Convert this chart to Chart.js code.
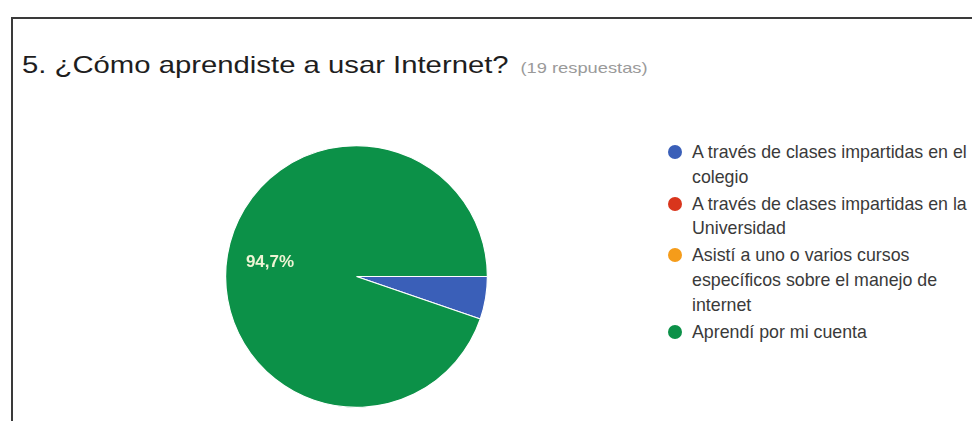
<!DOCTYPE html>
<html lang="es">
<head>
<meta charset="utf-8">
<title>¿Cómo aprendiste a usar Internet?</title>
<script src="https://cdn.jsdelivr.net/npm/chart.js@4/dist/chart.umd.min.js"></script>
<style>
    html, body {
        margin: 0;
        padding: 0;
        width: 972px;
        height: 421px;
        overflow: hidden;
        background: #fff;
        font-family: Arial, "Liberation Sans", sans-serif;
    }
    .marco {
        position: absolute;
        left: 11px;
        top: 17px;
        width: 980px;
        height: 420px;
        border-top: 2px solid #3a3a3a;
        border-left: 2px solid #3a3a3a;
    }
    .titulo {
        position: absolute;
        left: 22px;
        top: 53px;
        font-size: 24px;
        line-height: 1;
        color: #1e1e1e;
        white-space: nowrap;
        transform: scaleX(1.22);
        transform-origin: left top;
    }
    .titulo small {
        font-size: 15px;
        color: #9a9a9a;
        margin-left: 3px;
    }
    .grafico {
        position: absolute;
        left: 225px;
        top: 145px;
        width: 263px;
        height: 263px;
    }
    .leyenda {
        position: absolute;
        left: 668px;
        top: 140px;
        width: 304px;
        margin: 0;
        padding: 0;
        list-style: none;
        font-size: 17.8px;
        line-height: 24.8px;
        color: #3a3a3a;
    }
    .leyenda li {
        position: relative;
        padding-left: 24px;
        margin-bottom: 2px;
    }
    .leyenda .punto {
        position: absolute;
        left: 0;
        top: 5px;
        width: 14px;
        height: 14px;
        border-radius: 50%;
    }
</style>
</head>
<body>
<div class="marco"></div>
<div class="titulo">5. ¿Cómo aprendiste a usar Internet? <small>(19 respuestas)</small></div>
<div class="grafico"><canvas id="graficoTorta"></canvas></div>
<ul class="leyenda" id="leyenda"></ul>

<script>
    const opciones = [
        'A través de clases impartidas en el colegio',
        'A través de clases impartidas en la Universidad',
        'Asistí a uno o varios cursos específicos sobre el manejo de internet',
        'Aprendí por mi cuenta'
    ];
    const respuestas = [1, 0, 0, 18];
    const colores = ['#3a5fb8', '#d9351c', '#f59c1a', '#0c9148'];

    // porcentaje dentro de cada porción grande, con coma decimal
    const etiquetasPorcentaje = {
        id: 'etiquetasPorcentaje',
        afterDatasetsDraw(chart) {
            const ctx = chart.ctx;
            const datos = chart.data.datasets[0].data;
            const total = datos.reduce((a, b) => a + b, 0);
            const arcos = chart.getDatasetMeta(0).data;
            ctx.save();
            ctx.font = 'bold 17px Arial, "Liberation Sans", sans-serif';
            ctx.fillStyle = '#eef4d4';
            ctx.textAlign = 'center';
            ctx.textBaseline = 'middle';
            arcos.forEach((arco, i) => {
                const valor = datos[i];
                if (!valor || valor / total < 0.1) return;
                const p = arco.getProps(['x', 'y', 'startAngle', 'endAngle', 'outerRadius'], true);
                const medio = (p.startAngle + p.endAngle) / 2;
                const r = p.outerRadius * 0.67;
                const texto = (valor / total * 100).toFixed(1).replace('.', ',') + '%';
                ctx.fillText(texto, p.x + Math.cos(medio) * r, p.y + Math.sin(medio) * r);
            });
            ctx.restore();
        }
    };

    const ctxTorta = document.getElementById('graficoTorta').getContext('2d');
    const graficoTorta = new Chart(ctxTorta, {
        type: 'pie',
        data: {
            labels: opciones,
            datasets: [{
                data: respuestas,
                backgroundColor: colores,
                borderColor: '#ffffff',
                borderWidth: 1.2,
                hoverOffset: 0,
                offset: 0
            }]
        },
        options: {
            responsive: true,
            maintainAspectRatio: false,
            animation: false,
            rotation: 90,
            layout: { padding: 0 },
            plugins: {
                legend: { display: false },
                tooltip: { enabled: false },
                title: { display: false }
            }
        },
        plugins: [etiquetasPorcentaje]
    });

    // leyenda con ajuste de línea, a partir de los datos del gráfico
    const leyenda = document.getElementById('leyenda');
    graficoTorta.data.labels.forEach((texto, i) => {
        const li = document.createElement('li');
        const punto = document.createElement('span');
        punto.className = 'punto';
        punto.style.background = graficoTorta.data.datasets[0].backgroundColor[i];
        li.appendChild(punto);
        li.appendChild(document.createTextNode(texto));
        leyenda.appendChild(li);
    });
</script>
</body>
</html>
